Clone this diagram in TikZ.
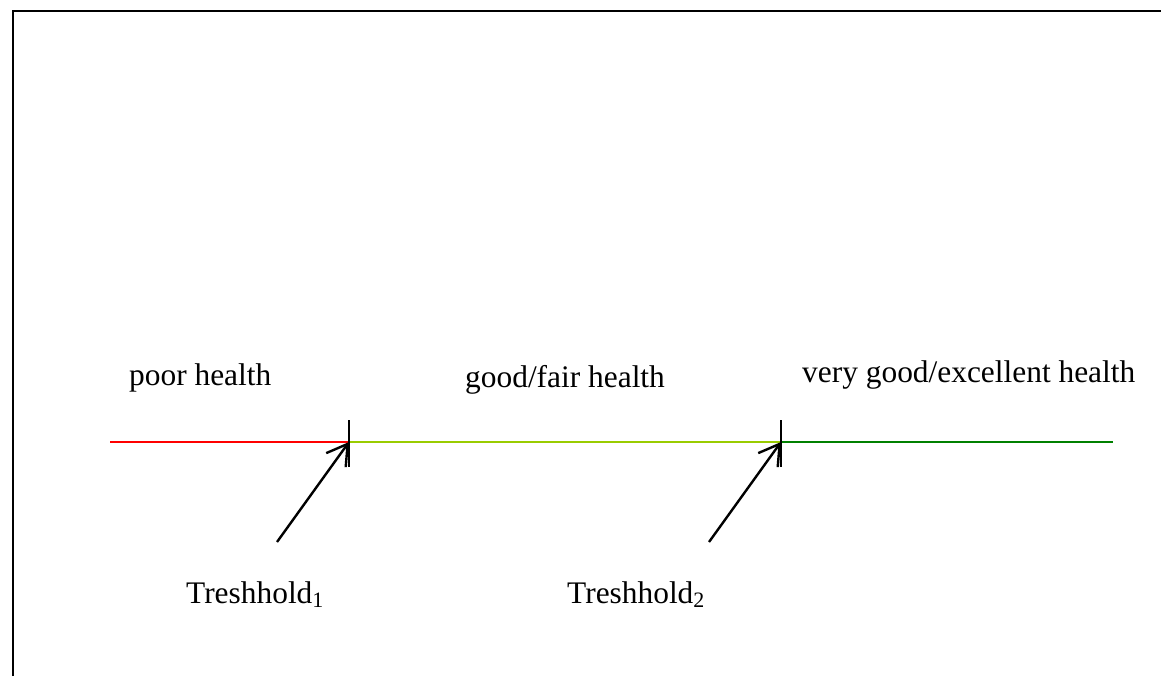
\documentclass[tikz,border=0pt]{standalone}
\usepackage{fontspec}
\setmainfont{Liberation Serif}
\usetikzlibrary{arrows.meta, positioning}
\definecolor{poorred}{HTML}{FF0000}
\definecolor{fairgreen}{HTML}{99CC00}
\definecolor{goodgreen}{HTML}{008000}

\begin{document}
\begin{tikzpicture}[x=0.5pt, y=-0.5pt, line width=1.2pt,
  >={Straight Barb[length=10pt, width=12pt, line width=1.2pt]},
  label/.style={font=\fontsize{15.7}{18}\selectfont, inner sep=0pt, anchor=base west},
  healthline/.style={line width=1.3pt},
  tickmark/.style={line width=1.2pt, black}
]

% Frame
\useasboundingbox (0,0) rectangle (1161,676);
\draw[line width=1.3pt] (13,676) -- (13,11) -- (1161,11);

% Scale points
\coordinate (start) at (110,442);
\coordinate (t1) at (349,442);
\coordinate (t2) at (781,442);
\coordinate (end) at (1113,442);

% Health scale
\draw[healthline, poorred] (start) -- (t1);
\draw[healthline, fairgreen] (t1) -- (t2);
\draw[healthline, goodgreen] (t2) -- (end);

% Thresholds
\draw[tickmark] ([yshift=11pt]t1) -- ([yshift=-12.5pt]t1);
\draw[tickmark] ([yshift=11pt]t2) -- ([yshift=-12.5pt]t2);

% Category labels
\node[label] (poor) at (128,385) {poor health};
\node[label] (fair) at (464,387) {good/fair health};
\node[label] (good) at (801,382) {very good/excellent health};

% Threshold labels and arrows
\node[label] (thr1) at (185,603) {Treshhold\textsubscript{1}};
\node[label] (thr2) at (566,603) {Treshhold\textsubscript{2}};
\coordinate (a1) at (277,542);
\coordinate (a2) at (709,542);
\draw[->] (a1) -- (t1);
\draw[->] (a2) -- (t2);

\end{tikzpicture}
\end{document}
